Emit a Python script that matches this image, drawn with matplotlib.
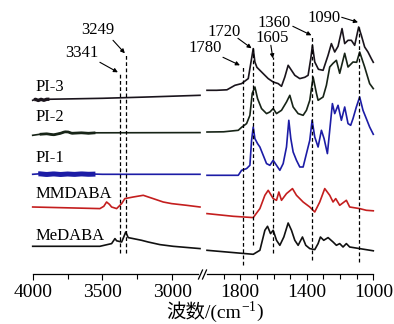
import numpy as np
import matplotlib
matplotlib.use("Agg")
import matplotlib.pyplot as plt
from matplotlib.lines import Line2D

plt.rcParams['font.family'] = ['Liberation Serif', 'Noto Sans CJK SC', 'DejaVu Serif']
plt.rcParams['mathtext.fontset'] = 'custom'
plt.rcParams['mathtext.rm'] = 'Liberation Serif'

# ---------------- data (wavenumber cm-1, stacked intensity a.u.) ----------------
labels = ["PI-3", "PI-2", "PI-1", "MMDABA", "MeDABA"]
colors = ["#1a141c", "#172417", "#1c1ca6", "#c41e1e", "#111111"]

# high-wavenumber region (4000-2800)
pi3_wn_L = [4000, 3980, 3960, 3940, 3920, 3900, 3500, 3200, 2800]
pi3_y_L = [174, 175, 173.8, 175, 174, 175, 176, 177.2, 179]
pi2_wn_L = [4000, 3950, 3900, 3850, 3800, 3770, 3745, 3720, 3650, 3600, 3550, 3500, 2800]
pi2_y_L = [139, 140, 140.5, 139.5, 141, 142.5, 142.3, 141, 141.5, 141, 141.5, 141.5, 141.7]
pi1_wn_L = [4000, 3950, 3900, 3850, 3800, 3750, 3700, 3650, 3600, 3550, 3500, 2800]
pi1_y_L = [100, 100.5, 99.8, 100.4, 99.8, 100.3, 99.9, 100.4, 100, 100.2, 100, 100]
mm_wn_L = [4000, 3518, 3490, 3470, 3450, 3434, 3398, 3362, 3339, 3279, 3207, 3136, 3064, 3004, 2897, 2800]
mm_y_L = [67.3, 65.7, 68, 72.3, 70, 67.3, 65.7, 70.7, 75.7, 77.3, 79, 75.7, 72.3, 70.7, 69, 67.3]
me_wn_L = [4000, 3518, 3434, 3410, 3398, 3362, 3345, 3333, 3315, 3279, 3219, 3172, 3088, 2993, 2800]
me_y_L = [28, 28, 30.7, 35.7, 33.5, 32.3, 38, 42.3, 36.7, 35.7, 34, 32.3, 29.7, 28, 25.7]

# noisy ranges at the high-wavenumber end (drawn thicker, as in the scan)
noisy_L = [(3990, 3880), (3950, 3550), (3960, 3550), None, None]
noisy_lw = [2.4, 2.0, 3.6, 0, 0]

# fingerprint region (2000-1000)
pi3_wn_R = [2000, 1942, 1880, 1832, 1792, 1752, 1732, 1722, 1712, 1700, 1682, 1652, 1632, 1602,
            1572, 1552, 1532, 1512, 1492, 1472, 1442, 1412, 1392, 1376, 1366, 1352, 1330, 1302,
            1272, 1252, 1232, 1212, 1188, 1172, 1152, 1132, 1112, 1088, 1072, 1052, 1032, 1012, 1000]
pi3_y_R = [184, 184, 184.5, 189, 190.7, 195.7, 215.7, 225.7, 212.3, 207, 204, 199, 195.7, 192.3,
           190.7, 188, 197.3, 209, 204, 199, 195.7, 197, 199, 215.7, 229, 212.3, 205, 204,
           219, 230.7, 222.3, 228, 245.7, 230.7, 234, 234, 229, 247.3, 239, 227.3, 222.3, 215.7, 212]
pi2_wn_R = [2000, 1900, 1812, 1792, 1762, 1742, 1728, 1712, 1696, 1672, 1642, 1622, 1602, 1582,
            1552, 1522, 1502, 1482, 1452, 1422, 1402, 1382, 1362, 1342, 1332, 1302, 1282, 1262,
            1242, 1222, 1202, 1172, 1152, 1122, 1100, 1082, 1052, 1022, 1000]
pi2_y_R = [142.3, 142.5, 144, 147, 150.7, 159, 181, 187.3, 175.7, 165.7, 160.7, 162.3, 165.7, 160.7,
           164, 172.3, 179, 167.3, 160.7, 159, 164, 174, 197.3, 181, 174, 177.3, 189, 207.3,
           211, 214, 201, 221, 207.3, 212.3, 212, 222.3, 207.3, 190.7, 185.7]
pi1_wn_R = [2000, 1812, 1792, 1762, 1742, 1732, 1722, 1712, 1696, 1682, 1662, 1642, 1622, 1602,
            1582, 1562, 1542, 1522, 1508, 1496, 1482, 1462, 1442, 1422, 1402, 1382, 1368, 1352,
            1332, 1312, 1296, 1276, 1262, 1246, 1232, 1212, 1192, 1172, 1152, 1136, 1122, 1102,
            1082, 1062, 1042, 1022, 1000]
pi1_y_R = [99, 99, 104, 105.7, 109, 134, 147.3, 135.7, 130.7, 127.3, 119, 110.7, 109, 114,
           109, 104, 110.7, 127.3, 154, 135.7, 122.3, 114, 107.3, 107.3, 120.7, 134, 154, 137.3,
           127.3, 144, 135.7, 120.7, 144, 170.7, 160.7, 169, 154, 167.3, 150.7, 149, 155.7, 167.3,
           177.3, 164, 155.7, 147.3, 140]
mm_wn_R = [2000, 1842, 1722, 1682, 1652, 1632, 1602, 1582, 1568, 1552, 1522, 1486, 1462, 1422,
           1382, 1352, 1322, 1292, 1262, 1242, 1226, 1202, 1162, 1142, 1082, 1042, 1000]
mm_y_R = [60.7, 58, 56.7, 65.7, 79, 84, 75.7, 74, 82.3, 74, 80.7, 85.7, 79, 72.3,
          67.3, 62.3, 72.3, 85.7, 79, 72.3, 75.7, 69, 74, 67.3, 65.7, 64, 63.5]
me_wn_R = [2000, 1722, 1682, 1652, 1636, 1618, 1602, 1582, 1562, 1538, 1512, 1492, 1472, 1452,
           1426, 1406, 1382, 1352, 1332, 1318, 1298, 1272, 1242, 1222, 1202, 1182, 1162, 1142,
           1082, 1000]
me_y_R = [24, 20, 24, 44, 48, 40.7, 44, 34, 29, 37.3, 51.3, 44, 34, 29,
          37.3, 29, 25.7, 24.7, 30.7, 37.3, 34, 36.7, 32.3, 29, 30.7, 27.3, 30.7, 27.3,
          25.7, 23.5]

series_L = [(pi3_wn_L, pi3_y_L), (pi2_wn_L, pi2_y_L), (pi1_wn_L, pi1_y_L), (mm_wn_L, mm_y_L), (me_wn_L, me_y_L)]
series_R = [(pi3_wn_R, pi3_y_R), (pi2_wn_R, pi2_y_R), (pi1_wn_R, pi1_y_R), (mm_wn_R, mm_y_R), (me_wn_R, me_y_R)]

# marked bands: label, drawn position, line top, line bottom
bands_L = [("3341", 3375, 202, 21), ("3249", 3334, 221, 21)]
bands_R = [("1780", 1785, 207, 9), ("1720", 1722, 226, 29), ("1605", 1603, 217, 21),
           ("1360", 1366, 239, 14), ("1090", 1083, 247, 12)]

# ---------------- figure ----------------
W, H = 394, 324
fig = plt.figure(figsize=(W / 100, H / 100), dpi=100)
ybot = (H - 274.3) / H
axL = fig.add_axes([32.7 / W, ybot, (200 - 32.7) / W, 274.3 / H])
axR = fig.add_axes([207 / W, ybot, (373.3 - 207) / W, 274.3 / H])

for ax in (axL, axR):
    for s in ("left", "right", "top"):
        ax.spines[s].set_visible(False)
    ax.set_yticks([])
    ax.set_ylim(0, 274.3)
    ax.patch.set_alpha(0)
    ax.tick_params(axis='x', which='major', direction='out', length=4.5, width=0.8,
                   labelsize=14, pad=2.5)
    ax.tick_params(axis='x', which='minor', direction='out', length=3.5, width=0.8)
    ax.spines['bottom'].set_linewidth(0.9)

axL.set_xlim(4000, 2800)
axR.set_xlim(2000, 1000)
axL.spines['bottom'].set_bounds(4000, 2815)
axL.set_xticks([4000, 3500, 3000])
axL.set_xticks([3750, 3250], minor=True)
axR.set_xticks([1800, 1400, 1000])
axR.set_xticks([1900, 1700, 1600, 1500, 1300, 1200, 1100], minor=True)

for (wn, y), c, rng, lw in zip(series_L, colors, noisy_L, noisy_lw):
    axL.plot(wn, y, color=c, lw=1.2, clip_on=False)
    if rng is not None:
        wn_a = np.array(wn, float)
        y_a = np.array(y, float)
        xs = np.linspace(rng[0], rng[1], 40)
        axL.plot(xs, np.interp(xs, wn_a[::-1], y_a[::-1]), color=c, lw=lw,
                 solid_capstyle='butt', clip_on=False)
for (wn, y), c in zip(series_R, colors):
    axR.plot(wn, y, color=c, lw=1.2, clip_on=False)

for ax, bands in ((axL, bands_L), (axR, bands_R)):
    for _, x, top, bot in bands:
        ax.plot([x, x], [bot, top], color='black', lw=0.9, ls=(0, (3, 2)), clip_on=False)

# sample labels
lab_y = [187, 157.5, 116.5, 80.5, 38]
for t, yy in zip(labels, lab_y):
    axL.text(3983, yy, t, fontsize=12, ha='left', va='center')

# band annotations (text position, arrow start, arrow end)
ann_L = [("3249", (3532, 244), (3424, 234), (3339, 221)),
         ("3341", (3647, 221), (3518, 212), (3389, 202))]
ann_R = [("1780", (2012, 226), (1904, 217), (1802, 209)),
         ("1720", (1898, 242), (1814, 236), (1732, 226)),
         ("1605", (1610, 236), (1616, 229), (1604, 216)),
         ("1360", (1598, 251), (1484, 248), (1372, 239)),
         ("1090", (1298, 256), (1190, 257), (1092, 252))]
for ax, anns in ((axL, ann_L), (axR, ann_R)):
    for t, tp, a0, a1 in anns:
        ax.text(tp[0], tp[1], t, fontsize=12, ha='center', va='center', clip_on=False)
        ax.annotate("", xy=a1, xytext=a0, annotation_clip=False,
                    arrowprops=dict(arrowstyle='-|>', color='black', lw=0.8,
                                    mutation_scale=6, shrinkA=0, shrinkB=0))

# axis break marks
for x0 in (198.5, 202.5):
    fig.add_artist(Line2D([x0 / W, (x0 + 4) / W], [(H - 279) / H, (H - 270) / H],
                          color='black', lw=0.9))

# x-axis title: Chinese part + mathtext superscript part
base_y = (H - 317.5) / H
t1 = fig.text(166 / W, base_y, "波数/(cm", fontsize=14, ha='left', va='baseline')
fig.canvas.draw()
bb = t1.get_window_extent(renderer=fig.canvas.get_renderer())
fig.text(bb.x1 / W, base_y, r"$\mathregular{^{-1}}$)", fontsize=14,
         ha='left', va='baseline')

fig.savefig("out.png", dpi=100)
